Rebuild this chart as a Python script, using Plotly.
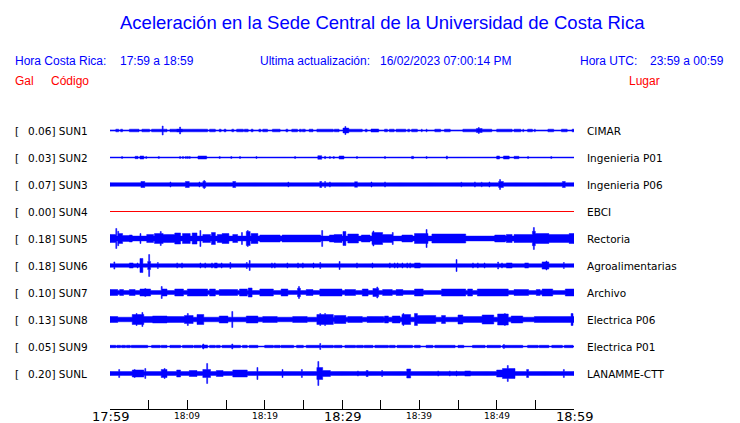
import numpy as np
import plotly.graph_objects as go

# ---------------- data ----------------
CODES = ["SUN1", "SUN2", "SUN3", "SUN4", "SUN5", "SUN6", "SUN7", "SUN8", "SUN9", "SUNL"]
PLACES = ["CIMAR", "Ingenieria P01", "Ingenieria P06", "EBCI", "Rectoria",
          "Agroalimentarias", "Archivo", "Electrica P06", "Electrica P01", "LANAMME-CTT"]
PEAK_GAL = [0.06, 0.03, 0.07, 0.00, 0.18, 0.18, 0.10, 0.13, 0.05, 0.20]
# background (noise) half-amplitude of each trace, Gal
BASE_GAL = [0.010, 0.008, 0.030, 0.0, 0.040, 0.030, 0.033, 0.038, 0.008, 0.033]

# bursts: (start minute, end minute, half amplitude Gal); minutes after 17:59
BURSTS_SUN1 = [(0.78, 1.03, .022), (1.42, 1.55, .022), (2.59, 3.75, .022), (4.14, 5.04, .022),
               (5.43, 6.72, .022), (6.85, 7.37, .022), (7.76, 8.53, .022), (8.66, 9.31, .025),
               (9.31, 12.54, .022), (12.93, 13.58, .022), (14.15, 14.3, .022), (14.8, 14.95, .022),
               (15.78, 15.9, .022), (16.42, 17.2, .022), (17.46, 17.84, .022), (18.36, 18.49, .022),
               (19.3, 19.5, .022), (19.78, 20.3, .022), (21.08, 21.98, .022), (22.8, 23.0, .022),
               (23.53, 24.18, .022), (24.5, 24.65, .022), (24.96, 25.22, .022), (25.86, 26.25, .022),
               (26.77, 28.84, .022), (29.09, 29.52, .022), (30.17, 30.82, .04), (30.82, 32.55, .022),
               (33.1, 33.25, .022), (33.84, 34.70, .025), (35.56, 35.78, .022), (36.21, 36.64, .022),
               (37.07, 38.15, .022), (38.5, 38.65, .022), (39.01, 39.66, .022), (40.25, 40.35, .022),
               (40.9, 41.0, .022), (42.03, 42.67, .022), (43.32, 43.97, .022), (45.69, 47.41, .022),
               (47.41, 48.06, .033), (48.06, 49.36, .022), (50.0, 51.94, .022), (52.37, 53.02, .022),
               (53.4, 53.5, .022), (54.09, 54.53, .022), (54.9, 55.0, .022), (56.68, 57.33, .022),
               (58.41, 59.06, .022), (59.85, 59.95, .022)]
SPIKES_SUN1 = [(6.76, .075), (9.05, .058), (30.47, .067), (47.63, .05)]

BURSTS_SUN2 = [(3.36, 3.53, .02), (3.88, 4.31, .025), (11.42, 12.5, .025), (26.94, 27.37, .03),
               (29.74, 30.17, .025), (39.01, 39.22, .02), (50.0, 50.3, .025), (50.9, 51.51, .025),
               (52.37, 52.8, .02)]
SPIKES_SUN2 = [(1.59, .017), (4.74, .017), (6.25, .017), (9.05, .017), (9.48, .017), (9.79, .017),
               (10.05, .017), (10.34, .017), (14.22, .017), (15.73, .017), (16.81, .017),
               (18.97, .017), (23.92, .017), (27.8, .02), (28.45, .017), (28.88, .017),
               (31.9, .017), (35.56, .017), (40.95, .017), (43.54, .025), (54.09, .017),
               (57.11, .017)]

BURSTS_SUN3 = [(4.09, 4.4, .05), (9.83, 10.13, .05), (12.07, 12.28, .05), (15.95, 16.16, .05),
               (27.16, 27.37, .05), (31.68, 31.9, .045), (50.3, 50.65, .05), (58.62, 58.84, .05)]
SPIKES_SUN3 = [(7.76, .042), (11.55, .042), (12.15, .067), (23.06, .04), (27.8, .05), (28.45, .042),
               (33.84, .042), (35.56, .042), (45.47, .038), (47.2, .042), (48.06, .038),
               (49.01, .042), (50.43, .083), (50.86, .05)]

BURSTS_SUN4 = []
SPIKES_SUN4 = []

BURSTS_SUN5 = [(0.0, 0.65, .067), (1.03, 1.55, .083), (1.55, 2.59, .05), (2.59, 2.84, .058),
               (4.78, 5.56, .067), (5.82, 6.85, .083), (6.85, 8.41, .067), (8.41, 9.05, .092),
               (9.44, 10.34, .083), (10.73, 11.25, .092), (12.03, 12.93, .067), (13.19, 13.58, .1),
               (13.97, 14.48, .067), (14.61, 15.26, .083), (15.9, 16.42, .067), (17.72, 18.1, .117),
               (18.36, 19.01, .083), (19.4, 21.98, .058), (22.37, 23.53, .058), (23.66, 27.16, .058),
               (28.45, 29.09, .058), (29.09, 30.0, .067), (30.13, 30.39, .117), (30.77, 32.07, .075),
               (32.59, 33.62, .058), (33.88, 35.17, .1), (35.3, 36.46, .067), (37.76, 39.05, .058),
               (39.44, 41.12, .083), (41.64, 45.91, .075), (49.78, 51.08, .058), (51.34, 51.98, .067),
               (52.37, 54.7, .067), (54.7, 54.96, .12), (54.96, 56.64, .083), (56.64, 59.4, .067),
               (59.4, 60.0, .083)]
SPIKES_SUN5 = [(0.84, .167), (1.03, .12), (3.88, .083), (6.59, .117), (11.64, .133), (17.07, .1),
               (17.84, .133), (27.41, .133), (34.1, .125), (36.59, .1), (40.99, .15), (54.83, .183)]

BURSTS_SUN6 = [(2.59, 2.97, .042), (3.88, 4.14, .117), (4.91, 5.17, .067), (13.58, 13.84, .042),
               (39.44, 40.09, .042), (51.34, 51.98, .042), (53.66, 54.05, .042), (55.99, 56.64, .06)]
SPIKES_SUN6 = [(0.52, .06), (3.62, .042), (5.04, .183), (6.21, .05), (8.66, .042), (9.31, .042),
               (11.64, .042), (12.28, .042), (13.19, .042), (14.48, .042), (15.52, .05),
               (17.72, .05), (18.1, .083), (20.95, .042), (21.34, .042), (22.89, .042), (24.31, .042),
               (24.96, .042), (26.25, .042), (27.16, .05), (29.74, .067), (31.94, .042),
               (33.88, .042), (36.21, .042), (36.85, .042), (37.24, .042), (37.76, .042),
               (38.4, .042), (38.79, .042), (44.87, .1), (46.94, .042), (47.58, .042), (48.49, .042),
               (50.17, .058), (50.69, .042), (56.38, .075), (58.71, .05)]

BURSTS_SUN7 = [(0.0, 0.9, .05), (1.29, 1.68, .05), (2.59, 3.23, .05), (3.88, 5.17, .058),
               (6.85, 7.37, .058), (8.41, 9.44, .058), (10.09, 12.54, .058), (12.93, 13.58, .058),
               (14.22, 16.42, .05), (16.81, 17.72, .058), (17.97, 18.36, .075), (19.4, 21.08, .058),
               (22.24, 22.89, .058), (24.31, 24.57, .07), (25.47, 26.25, .05), (27.16, 30.0, .058),
               (30.39, 31.68, .05), (32.71, 33.36, .058), (34.01, 34.65, .067), (35.3, 36.46, .05),
               (37.11, 37.76, .05), (39.44, 40.47, .058), (42.93, 45.91, .058), (46.29, 46.81, .058),
               (47.58, 51.46, .058), (52.37, 54.05, .05), (55.21, 55.6, .05), (55.99, 57.15, .058),
               (58.97, 60.0, .058)]
SPIKES_SUN7 = [(4.53, .067), (6.72, .1), (24.44, .1), (34.52, .092)]

BURSTS_SUN8 = [(0.0, 0.9, .05), (2.97, 4.27, .083), (4.27, 9.96, .05), (5.56, 7.37, .058),
               (9.7, 10.73, .067), (11.25, 12.03, .083), (14.22, 15.13, .058), (17.72, 19.01, .058),
               (19.78, 21.59, .05), (23.66, 25.47, .05), (26.77, 28.84, .083), (29.09, 30.39, .067),
               (30.77, 32.59, .05), (33.36, 35.3, .05), (35.56, 35.95, .058), (36.59, 37.5, .058),
               (37.76, 38.79, .083), (39.44, 39.7, .1), (39.7, 42.03, .067), (42.93, 43.32, .067),
               (45.0, 45.52, .075), (45.52, 48.1, .05), (48.23, 49.52, .075), (50.17, 51.46, .092),
               (51.98, 53.27, .058), (54.96, 60.0, .05)]
SPIKES_SUN8 = [(3.49, .1), (4.14, .117), (10.09, .1), (15.78, .133), (27.16, .1), (27.8, .1),
               (37.89, .1), (51.08, .1), (59.74, .1), (59.87, .1)]

BURSTS_SUN9 = [(0.0, 0.65, .02), (0.9, 1.29, .02), (1.55, 1.94, .02), (2.2, 2.59, .02),
               (2.84, 4.78, .02), (5.43, 6.47, .02), (6.72, 7.37, .02), (7.76, 9.05, .02),
               (9.44, 10.73, .02), (10.99, 11.64, .02), (11.9, 12.54, .025), (12.93, 13.58, .02),
               (13.84, 14.22, .02), (14.61, 15.13, .02), (15.26, 16.81, .02), (17.2, 17.72, .02),
               (18.1, 19.01, .02), (20.04, 21.08, .02), (21.34, 21.98, .02), (22.24, 23.66, .02),
               (24.18, 24.96, .02), (25.47, 27.16, .02), (27.41, 28.84, .02), (29.09, 30.0, .02),
               (30.39, 31.68, .02), (31.94, 32.71, .02), (32.97, 33.88, .02), (34.27, 35.95, .02),
               (36.21, 36.85, .02), (37.24, 39.05, .02), (39.44, 40.09, .02), (40.99, 41.64, .02),
               (42.03, 44.61, .02), (45.0, 45.65, .02), (46.94, 48.49, .02), (48.75, 49.4, .02),
               (49.52, 50.43, .02), (50.82, 51.34, .02), (51.46, 53.27, .02), (54.05, 55.34, .02),
               (55.6, 56.64, .02), (57.15, 58.45, .02), (58.84, 59.87, .02)]
SPIKES_SUN9 = [(12.03, .042), (15.78, .042), (27.16, .05), (50.95, .033)]

BURSTS_SUNL = [(2.97, 4.27, .058), (6.72, 7.37, .067), (8.66, 9.05, .058), (10.34, 11.25, .05),
               (12.03, 12.93, .067), (13.84, 14.61, .05), (15.9, 17.72, .058), (26.77, 27.41, .1),
               (27.54, 28.45, .05), (33.23, 33.36, .05), (38.4, 38.79, .075), (45.91, 46.55, .042),
               (50.04, 50.69, .058), (50.82, 52.37, .083), (53.92, 54.05, .067)]
SPIKES_SUNL = [(1.16, .067), (3.23, .067), (4.53, .083), (7.11, .083), (12.54, .167), (19.01, .1),
               (22.37, .067), (24.83, .067), (26.9, .2), (32.07, .042), (35.17, .05), (42.41, .042),
               (43.97, .042), (44.87, .042), (51.46, .133), (58.71, .067)]

BURSTS = [BURSTS_SUN1, BURSTS_SUN2, BURSTS_SUN3, BURSTS_SUN4, BURSTS_SUN5,
          BURSTS_SUN6, BURSTS_SUN7, BURSTS_SUN8, BURSTS_SUN9, BURSTS_SUNL]
SPIKES = [SPIKES_SUN1, SPIKES_SUN2, SPIKES_SUN3, SPIKES_SUN4, SPIKES_SUN5,
          SPIKES_SUN6, SPIKES_SUN7, SPIKES_SUN8, SPIKES_SUN9, SPIKES_SUNL]

TICK_MINUTES = list(range(0, 61, 5))
BIG_TICK_LABELS = {0: "17:59", 30: "18:29", 60: "18:59"}
SMALL_TICK_LABELS = {10: "18:09", 20: "18:19", 40: "18:39", 50: "18:49"}

TITLE = "Aceleración en la Sede Central de la Universidad de Costa Rica"

# ---------------- layout constants ----------------
W, H = 740, 423
X0, X1 = 110, 574           # plot area, px
Y0, Y1 = 115, 409
ROW0 = 130.5                # px centre of first trace
ROW_GAL = 0.45              # vertical spacing between traces (Gal) = 27 px
PX_PER_GAL = 60.0
TOP_GAL = (ROW0 - Y0) / PX_PER_GAL
BOT_GAL = -(Y1 - ROW0) / PX_PER_GAL
BLUE = "#0000ff"
RED = "#ff0000"
NB = 480
DT = 60.0 / NB


def px(x):
    return (x - X0) / (X1 - X0)


def py(y):
    return (Y1 - y) / (Y1 - Y0)


fig = go.Figure()

edges = np.arange(NB + 1) * DT
for k, code in enumerate(CODES):
    c = -ROW_GAL * k
    if PEAK_GAL[k] == 0:
        fig.add_trace(go.Scatter(x=[0, 60], y=[c, c], mode="lines",
                                 line=dict(color=RED, width=1), hoverinfo="skip",
                                 showlegend=False))
        continue
    env = np.full(NB, BASE_GAL[k])
    for t0, t1, a in BURSTS[k]:
        m = (edges[1:] > t0) & (edges[:-1] < t1)
        env[m] = np.maximum(env[m], a)
    for t, a in SPIKES[k]:
        i = min(int(t / DT), NB - 1)
        env[i] = max(env[i], a)
    xs_up = np.repeat(edges, 2)[1:-1]
    up = np.repeat(c + env, 2)
    lo = np.repeat(c - env, 2)
    xs = np.concatenate([xs_up, xs_up[::-1], xs_up[:1]])
    ys = np.concatenate([up, lo[::-1], up[:1]])
    fig.add_trace(go.Scatter(x=xs, y=ys, mode="lines", fill="toself",
                             fillcolor=BLUE,
                             line=dict(color=BLUE, width=0.5, simplify=False),
                             hoverinfo="skip", showlegend=False))

ann = []
LAB_FONT = dict(family="DejaVu Sans", size=10.5, color="black")
for k, code in enumerate(CODES):
    yc = ROW0 + 27 * k
    ann.append(dict(x=px(13), y=py(yc), xref="paper", yref="paper", text="[",
                    showarrow=False, xanchor="left", yanchor="middle", font=LAB_FONT))
    ann.append(dict(x=px(25.5), y=py(yc), xref="paper", yref="paper",
                    text=f"{PEAK_GAL[k]:.2f}] {code}",
                    showarrow=False, xanchor="left", yanchor="middle", font=LAB_FONT))
    ann.append(dict(x=px(585), y=py(yc), xref="paper", yref="paper", text=PLACES[k],
                    showarrow=False, xanchor="left", yanchor="middle", font=LAB_FONT))

HEAD = dict(family="Liberation Sans, Arial, sans-serif", size=12, color=BLUE)
HEAD_R = dict(family="Liberation Sans, Arial, sans-serif", size=12, color=RED)
ann.append(dict(x=px(382), y=py(22.5), xref="paper", yref="paper", text=TITLE, showarrow=False,
                xanchor="center", yanchor="middle",
                font=dict(family="Liberation Sans, Arial, sans-serif", size=18.5, color=BLUE)))
for x, t in [(13, "Hora Costa Rica:"), (118, "17:59 a 18:59"),
             (258, "Ultima actualización:"), (378, "16/02/2023 07:00:14 PM"),
             (578, "Hora UTC:"), (648, "23:59 a 00:59")]:
    ann.append(dict(x=px(x), y=py(61), xref="paper", yref="paper", text=t, showarrow=False,
                    xanchor="left", yanchor="middle", font=HEAD))
for x, t in [(13, "Gal"), (49, "Código"), (627, "Lugar")]:
    ann.append(dict(x=px(x), y=py(81), xref="paper", yref="paper", text=t, showarrow=False,
                    xanchor="left", yanchor="middle", font=HEAD_R))

for m, t in BIG_TICK_LABELS.items():
    ann.append(dict(x=m, y=py(416.5), xref="x", yref="paper", text=t, showarrow=False,
                    xanchor="center", yanchor="middle",
                    font=dict(family="DejaVu Sans", size=13, color="black")))
for m, t in SMALL_TICK_LABELS.items():
    ann.append(dict(x=m, y=py(415.7), xref="x", yref="paper", text=t, showarrow=False,
                    xanchor="center", yanchor="middle",
                    font=dict(family="DejaVu Sans", size=9, color="black")))

fig.update_layout(
    width=W, height=H,
    margin=dict(l=X0, r=W - X1, t=Y0, b=H - Y1, pad=0),
    paper_bgcolor="white", plot_bgcolor="white",
    xaxis=dict(range=[0, 60], showgrid=False, zeroline=False, showline=True,
               linecolor="black", linewidth=1, ticks="inside", ticklen=9,
               tickcolor="black", tickwidth=1, tickvals=TICK_MINUTES,
               showticklabels=False, fixedrange=True),
    yaxis=dict(range=[BOT_GAL, TOP_GAL], visible=False, fixedrange=True),
    annotations=ann,
    showlegend=False,
)

fig.write_html("out.html", config={"displayModeBar": False},
               post_script="document.body.style.margin='0';document.body.style.padding='0';")
